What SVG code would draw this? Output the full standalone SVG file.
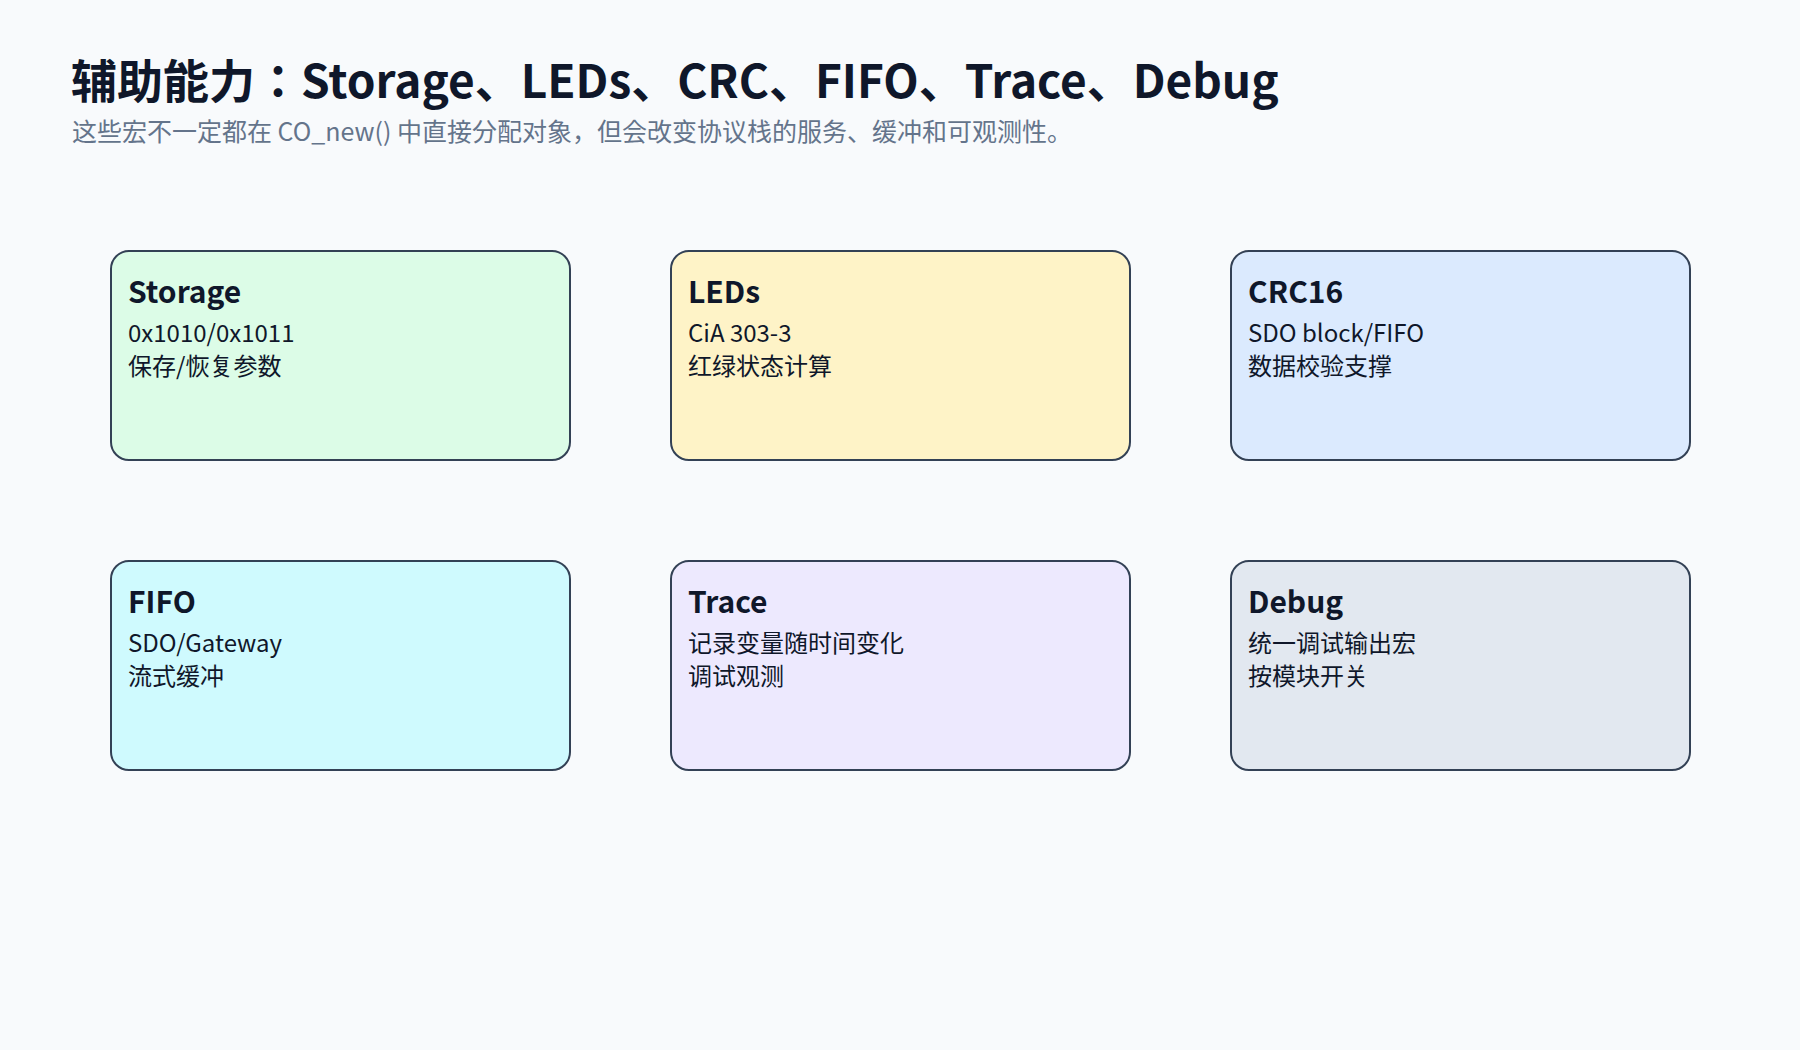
<svg xmlns="http://www.w3.org/2000/svg" width="1800" height="1050" viewBox="0 0 1800 1050">
<style>
text{font-family:"Noto Sans CJK JP","Noto Sans CJK SC","Noto Sans",sans-serif;}
.title{font-size:46px;font-weight:700;fill:#0f172a;}
.sub{font-size:25px;fill:#64748b;}
.box{stroke:#334155;stroke-width:2;}
.h{font-size:30px;font-weight:700;fill:#0f172a;}
.t{font-size:24px;fill:#0f172a;}
</style>
<rect width="1800" height="1050" fill="#f8fafc"/>
<text class="title" x="71" y="98">辅助能力：Storage、LEDs、CRC、FIFO、Trace、Debug</text>
<text class="sub" x="72" y="141">这些宏不一定都在 CO_new() 中直接分配对象，但会改变协议栈的服务、缓冲和可观测性。</text>
<g id="connectors"></g>
<g id="storage">
<rect class="box" x="111" y="251" width="459" height="209" rx="18" fill="#dcfce7"/>
<text class="h" x="128" y="303">Storage</text>
<text class="t" x="128" y="342">0x1010/0x1011</text>
<text class="t" x="128" y="375">保存/恢复参数</text>
</g>
<g id="leds">
<rect class="box" x="671" y="251" width="459" height="209" rx="18" fill="#fef3c7"/>
<text class="h" x="688" y="303">LEDs</text>
<text class="t" x="688" y="342">CiA 303-3</text>
<text class="t" x="688" y="375">红绿状态计算</text>
</g>
<g id="crc16">
<rect class="box" x="1231" y="251" width="459" height="209" rx="18" fill="#dbeafe"/>
<text class="h" x="1248" y="303">CRC16</text>
<text class="t" x="1248" y="342">SDO block/FIFO</text>
<text class="t" x="1248" y="375">数据校验支撑</text>
</g>
<g id="fifo">
<rect class="box" x="111" y="561" width="459" height="209" rx="18" fill="#cffafe"/>
<text class="h" x="128" y="613">FIFO</text>
<text class="t" x="128" y="652">SDO/Gateway</text>
<text class="t" x="128" y="685">流式缓冲</text>
</g>
<g id="trace">
<rect class="box" x="671" y="561" width="459" height="209" rx="18" fill="#ede9fe"/>
<text class="h" x="688" y="613">Trace</text>
<text class="t" x="688" y="652">记录变量随时间变化</text>
<text class="t" x="688" y="685">调试观测</text>
</g>
<g id="debug">
<rect class="box" x="1231" y="561" width="459" height="209" rx="18" fill="#e2e8f0"/>
<text class="h" x="1248" y="613">Debug</text>
<text class="t" x="1248" y="652">统一调试输出宏</text>
<text class="t" x="1248" y="685">按模块开关</text>
</g>
</svg>
